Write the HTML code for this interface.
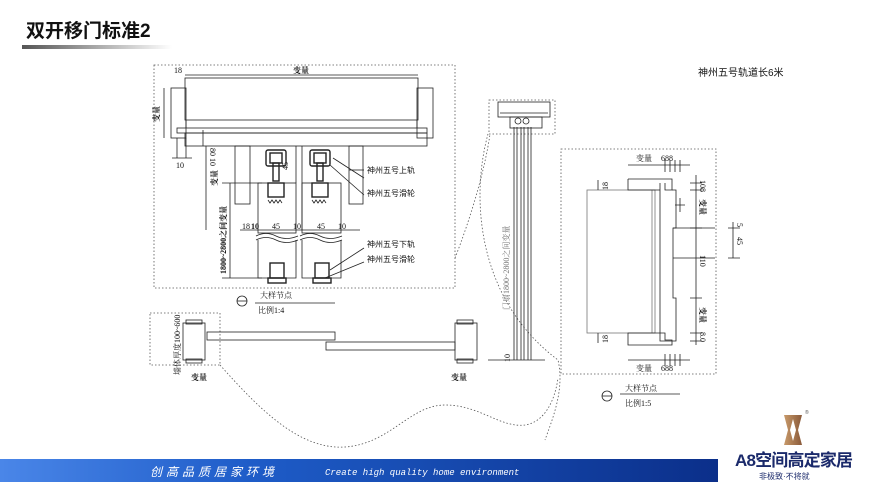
<!DOCTYPE html>
<html><head><meta charset="utf-8"><style>
body{margin:0;width:880px;height:495px;overflow:hidden;background:#fff;font-family:"Liberation Sans","Noto Sans CJK SC",sans-serif}
svg{position:absolute;left:0;top:0}
</style></head><body>
<svg width="880" height="495" viewBox="0 0 880 495" xmlns="http://www.w3.org/2000/svg">
<defs>
<linearGradient id="ul" x1="0" x2="1"><stop offset="0" stop-color="#555"/><stop offset="1" stop-color="#fff"/></linearGradient>
<linearGradient id="bn" x1="0" x2="1"><stop offset="0" stop-color="#4a86e8"/><stop offset="0.35" stop-color="#1e5cc8"/><stop offset="1" stop-color="#0b2f8a"/></linearGradient>
<linearGradient id="lg" x1="0" x2="1"><stop offset="0" stop-color="#c89a6a"/><stop offset="1" stop-color="#8a5a3a"/></linearGradient>
</defs>
<text x="26" y="37" font-size="19" font-weight="bold" fill="#111" font-family="Liberation Sans,Noto Sans CJK SC,sans-serif">双开移门标准2</text>
<rect x="22" y="45" width="150" height="4" fill="url(#ul)"/>

<g fill="none" stroke="#555" stroke-width="0.8" stroke-dasharray="1.5 2">
<rect x="154" y="65" width="301" height="223"/>
<rect x="150" y="313" width="70" height="52"/>
<rect x="489" y="100" width="66" height="34"/>
<rect x="561" y="149" width="155" height="225"/>
<path d="M455 258 C470 220 485 170 490 134"/>
<path d="M488 134 C470 200 478 300 558 360 C565 390 552 420 545 440"/>
<path d="M220 365 C260 410 300 450 345 447 C390 444 410 405 445 405 C480 405 500 428 525 425 C545 422 555 400 558 378"/>
</g>

<g fill="none" stroke="#222" stroke-width="0.8">
<line x1="185" y1="75" x2="418" y2="75"/>
<rect x="185" y="78" width="233" height="42"/>
<line x1="186" y1="120" x2="186" y2="128"/><line x1="417" y1="120" x2="417" y2="128"/>
<rect x="177" y="128" width="250" height="5"/>
<rect x="185" y="133" width="242" height="13"/>
<rect x="171" y="88" width="15" height="50"/>
<rect x="417" y="88" width="16" height="50"/>
<line x1="164" y1="88" x2="164" y2="138"/>
<line x1="177" y1="138" x2="177" y2="158"/><line x1="186" y1="138" x2="186" y2="158"/><line x1="172" y1="158" x2="192" y2="158"/>
<line x1="203" y1="130" x2="203" y2="146"/>
<rect x="235" y="146" width="15" height="58"/>
<rect x="349" y="146" width="14" height="58"/>
<line x1="302" y1="146" x2="302" y2="230"/>
<g stroke-width="1.4">
<rect x="266" y="150" width="20" height="16" rx="2"/><rect x="270" y="153" width="12" height="10"/>
<rect x="273" y="163" width="6" height="18"/><rect x="268" y="183" width="16" height="14"/>
<rect x="310" y="150" width="20" height="16" rx="2"/><rect x="314" y="153" width="12" height="10"/>
<rect x="317" y="163" width="6" height="18"/><rect x="312" y="183" width="16" height="14"/>
<rect x="270" y="263" width="14" height="15"/><rect x="268" y="278" width="18" height="5"/>
<rect x="315" y="263" width="14" height="15"/><rect x="313" y="278" width="18" height="5"/>
</g>
<path d="M268 200 l2 3 l2 -3 l2 3 l2 -3 l2 3 l2 -3 l2 3 M312 200 l2 3 l2 -3 l2 3 l2 -3 l2 3 l2 -3 l2 3"/>
<rect x="258" y="183" width="38" height="50"/>
<rect x="302" y="183" width="39" height="50"/>
<path d="M256 236 q10 -5 20 0 t22 0 M300 236 q10 -5 20 0 t22 0 M256 240 q10 -5 20 0 t22 0 M300 240 q10 -5 20 0 t22 0"/>
<path d="M258 240 V278 H296 V240 M302 240 V278 H341 V240"/>
<line x1="230" y1="183" x2="230" y2="278"/>
<line x1="222" y1="183" x2="262" y2="183"/><line x1="222" y1="278" x2="262" y2="278"/>
<line x1="206" y1="146" x2="206" y2="230"/>
<line x1="240" y1="230" x2="360" y2="230"/>
<line x1="296" y1="146" x2="296" y2="183"/>
<line x1="349" y1="170" x2="364" y2="170"/><line x1="333" y1="158" x2="364" y2="178"/>
<line x1="330" y1="165" x2="364" y2="195"/>
<line x1="330" y1="270" x2="364" y2="248"/><line x1="325" y1="278" x2="364" y2="262"/>
<circle cx="242" cy="301" r="5"/><line x1="237" y1="301" x2="247" y2="301"/>
<line x1="255" y1="303" x2="335" y2="303"/>
<rect x="183" y="323" width="22" height="37"/><rect x="186" y="320" width="16" height="4"/><rect x="186" y="359" width="16" height="4"/>
<rect x="207" y="332" width="128" height="8"/>
<rect x="326" y="342" width="129" height="8"/>
<rect x="455" y="323" width="22" height="37"/><rect x="457" y="320" width="16" height="4"/><rect x="457" y="359" width="16" height="4"/>
<rect x="498" y="102" width="52" height="15"/><line x1="500" y1="113" x2="548" y2="113"/>
<rect x="510" y="117" width="32" height="11"/>
<circle cx="518" cy="121" r="3"/><circle cx="526" cy="121" r="3"/>
<path d="M514 127 V360 M517 127 V360 M521 127 V360 M524 127 V360 M528 127 V360 M531 127 V360"/>
<line x1="488" y1="360" x2="545" y2="360"/>
<rect x="587" y="190" width="68" height="143" stroke="#777"/>
<line x1="652" y1="190" x2="652" y2="333" stroke="#777"/>
<path d="M628 179 H672 V190 H665 V183 M628 179 V190 H660"/>
<path d="M660 183 V341 H676 V298 H673 V228 H676 V190 H672"/>
<path d="M628 333 H665 V340 H672 V345 H628 Z"/>
<path d="M673 228 H715 M673 258 H715"/>
<line x1="696" y1="175" x2="696" y2="345"/>
<path d="M690 183 H702 M690 190 H702 M690 228 H702 M690 298 H702 M690 333 H702 M690 341 H702"/>
<line x1="733" y1="222" x2="733" y2="258"/><path d="M728 228 H740 M728 258 H740"/>
<line x1="628" y1="165" x2="690" y2="165"/><line x1="628" y1="360" x2="690" y2="360"/>
<path d="M665 160 V172 M670 160 V172 M675 160 V172 M680 160 V172 M665 354 V366 M670 354 V366 M675 354 V366 M680 354 V366"/>
<path d="M598 180 V190 M598 333 V343 M675 205 H685 M680 198 V212"/>
<circle cx="607" cy="396" r="5"/><line x1="602" y1="396" x2="612" y2="396"/>
<line x1="620" y1="394" x2="680" y2="394"/>
</g>

<g font-family="Liberation Serif,Noto Serif CJK SC,serif" font-size="8" fill="#111">
<text x="174" y="73">18</text>
<text x="293" y="73" font-weight="bold">变量</text>
<text x="176" y="168">10</text>
<text x="242" y="229">18</text><text x="251" y="229" font-weight="bold">10</text><text x="272" y="229">45</text>
<text x="293" y="229">10</text><text x="317" y="229">45</text><text x="338" y="229">10</text>
<text x="159" y="122" transform="rotate(-90 159 122)" font-weight="bold">变量</text>
<text x="210" y="148" transform="rotate(90 210 148)">80 10</text>
<text x="300" y="158" transform="rotate(-90 300 170)">45</text>
<text x="217" y="186" transform="rotate(-90 217 186)" font-weight="bold">变量</text>
<text x="226" y="274" transform="rotate(-90 226 274)" font-weight="bold">1800~2800之间变量</text>
<text x="260" y="298">大样节点</text><text x="258" y="313">比例1:4</text>
<text x="180" y="375" transform="rotate(-90 180 375)">墙体厚度100~600</text>
<text x="191" y="380" font-weight="bold">变量</text><text x="451" y="380" font-weight="bold">变量</text>
<text x="509" y="310" transform="rotate(-90 509 310)" fill="#777">门扇1800~2800之间变量</text>
<text x="510" y="362" transform="rotate(-90 510 362)">10</text>
<text x="636" y="161">变量</text><text x="661" y="161">688</text>
<text x="636" y="371">变量</text><text x="661" y="371">688</text>
<text x="700" y="180" transform="rotate(90 700 180)">108</text>
<text x="700" y="199" transform="rotate(90 700 199)" font-weight="bold">变量</text>
<text x="700" y="255" transform="rotate(90 700 255)">110</text>
<text x="700" y="307" transform="rotate(90 700 307)" font-weight="bold">变量</text>
<text x="700" y="332" transform="rotate(90 700 332)">8.0</text>
<text x="608" y="190" transform="rotate(-90 608 190)">18</text>
<text x="608" y="343" transform="rotate(-90 608 343)">18</text>
<text x="737" y="223" transform="rotate(90 737 223)">5</text>
<text x="737" y="237" transform="rotate(90 737 237)">45</text>
<text x="625" y="391">大样节点</text><text x="625" y="406">比例1:5</text>
</g>
<g font-family="Liberation Sans,Noto Sans CJK SC,sans-serif" font-size="8" fill="#111">
<text x="367" y="173">神州五号上轨</text>
<text x="367" y="196">神州五号滑轮</text>
<text x="367" y="247">神州五号下轨</text>
<text x="367" y="262">神州五号滑轮</text>
<text x="698" y="76" font-size="10">神州五号轨道长6米</text>
</g>

<rect x="0" y="459" width="718" height="23" fill="url(#bn)"/>
<text x="150" y="476" font-size="12" fill="#fff" font-style="italic" font-family="Liberation Sans,Noto Sans CJK SC,sans-serif" letter-spacing="4">创高品质居家环境</text>
<text x="325" y="475" font-size="9" fill="#fff" font-style="italic" font-family="Liberation Mono,monospace">Create high quality home environment</text>

<path d="M784 415 H802 L798 430 L802 445 H784 L788 430 Z" fill="url(#lg)"/>
<path d="M793 419 L796 430 L793 441 L790 430 Z" fill="#fff"/>
<text x="805" y="414" font-size="5" fill="#555">®</text>
<text x="735" y="466" font-size="17" font-weight="bold" fill="#1b2a6b" font-family="Liberation Sans,Noto Sans CJK SC,sans-serif" textLength="118">A8空间高定家居</text>
<text x="759" y="479" font-size="8" fill="#1b2a6b" font-family="Liberation Sans,Noto Sans CJK SC,sans-serif">非极致·不将就</text>
</svg>
</body></html>
